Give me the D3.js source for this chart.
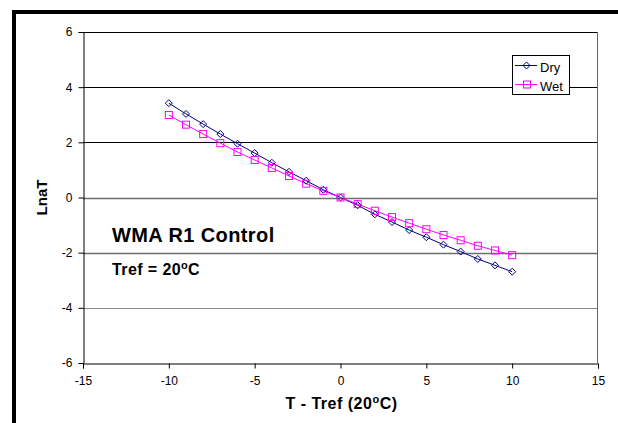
<!DOCTYPE html>
<html>
<head>
<meta charset="utf-8">
<script src="https://cdn.jsdelivr.net/npm/d3@7/dist/d3.min.js"></script>
<style>
  html, body { margin: 0; padding: 0; background: #fff; }
  svg { display: block; font-family: "Liberation Sans", Arial, sans-serif; }
</style>
</head>
<body>
<svg id="chart" width="618" height="423"></svg>
<script>
// Temperature offset from the reference temperature (°C)
const tOffsets = [-10, -9, -8, -7, -6, -5, -4, -3, -2, -1, 0, 1, 2, 3, 4, 5, 6, 7, 8, 9, 10];
// Ln(aT) shift factors, dry specimens
const dryValues = [3.42, 3.03, 2.66, 2.30, 1.95, 1.61, 1.26, 0.93, 0.61, 0.28, 0.00,
                   -0.28, -0.61, -0.89, -1.18, -1.44, -1.71, -1.96, -2.23, -2.46, -2.69];
// Ln(aT) shift factors, wet specimens
const wetValues = [2.99, 2.64, 2.30, 1.97, 1.65, 1.36, 1.07, 0.78, 0.50, 0.24, 0.00,
                   -0.24, -0.48, -0.71, -0.93, -1.15, -1.36, -1.55, -1.75, -1.92, -2.09];
const xTicks = [-15, -10, -5, 0, 5, 10, 15];
const yTicks = [-6, -4, -2, 0, 2, 4, 6];
const seriesNames = ["Dry", "Wet"];

const svg = d3.select("#chart");

// Frame edges on the top and left of the sheet
svg.append("rect").attr("x", 12).attr("y", 10).attr("width", 606).attr("height", 4).attr("fill", "#000");
svg.append("rect").attr("x", 12).attr("y", 10).attr("width", 4).attr("height", 413).attr("fill", "#000");

const plotLeft = 83, plotRight = 598, plotTop = 32, plotBottom = 363;
const x = d3.scaleLinear().domain([-15, 15]).range([plotLeft, plotRight]);
const y = d3.scaleLinear().domain([-6, 6]).range([plotBottom, plotTop]);

// Horizontal gridlines
svg.append("g").selectAll("line")
  .data(yTicks.filter(v => v > -6 && v < 6))
  .join("line")
  .attr("x1", plotLeft).attr("x2", plotRight)
  .attr("y1", d => Math.round(y(d)) + 0.5).attr("y2", d => Math.round(y(d)) + 0.5)
  .attr("stroke", d => d >= 2 ? "#000" : (d === -4 ? "#8a8a8a" : "#6e6e6e"))
  .attr("stroke-width", d => (d === 0 || d === -2) ? 1.6 : 1);

// Plot area outline (top and right)
svg.append("line").attr("x1", plotLeft).attr("x2", plotRight).attr("y1", plotTop + 0.5).attr("y2", plotTop + 0.5)
  .attr("stroke", "#000");
svg.append("line").attr("x1", plotRight - 0.5).attr("x2", plotRight - 0.5).attr("y1", plotTop).attr("y2", plotBottom)
  .attr("stroke", "#666");

// Axes (plain hyphen for negative numbers)
const fmt = d => String(d);
const xAxis = svg.append("g").attr("transform", `translate(0,${plotBottom + 0.5})`)
  .call(d3.axisBottom(x).tickValues(xTicks).tickSize(5).tickPadding(6).tickFormat(fmt));
const yAxis = svg.append("g").attr("transform", `translate(${plotLeft + 0.5},0)`)
  .call(d3.axisLeft(y).tickValues(yTicks).tickSize(5).tickPadding(6).tickFormat(fmt));
[xAxis, yAxis].forEach(a => {
  a.select(".domain").attr("stroke", "#000");
  a.selectAll(".tick line").attr("stroke", "#000");
  a.selectAll(".tick text").attr("font-size", 12).attr("fill", "#000")
    .attr("font-family", "'Liberation Sans', Arial, sans-serif");
});
xAxis.selectAll(".tick text").attr("dy", "0.85em");

// Axis titles
const xt = svg.append("text").attr("x", x(0) + 1).attr("y", 409).attr("text-anchor", "middle")
  .attr("font-size", 16).attr("font-weight", "bold").attr("letter-spacing", 0.5);
xt.append("tspan").text("T - Tref (20");
xt.append("tspan").attr("font-size", 11).attr("dy", -6).text("o");
xt.append("tspan").attr("dy", 6).text("C)");

svg.append("text").attr("transform", `translate(47,${y(0)}) rotate(-90)`)
  .attr("text-anchor", "middle").attr("font-size", 15).attr("font-weight", "bold").text("LnaT");

// Series lines and markers
const line = d3.line().x((d, i) => x(tOffsets[i])).y(d => y(d));
const dryColor = "#000080", wetColor = "#ff00ff";

svg.append("path").datum(dryValues).attr("d", line).attr("fill", "none").attr("stroke", dryColor).attr("stroke-width", 1);
svg.append("path").datum(wetValues).attr("d", line).attr("fill", "none").attr("stroke", wetColor).attr("stroke-width", 1);

const diamond = (cx, cy, r) => `M${cx},${cy - r}L${cx + r},${cy}L${cx},${cy + r}L${cx - r},${cy}Z`;
svg.append("g").selectAll("path").data(dryValues).join("path")
  .attr("d", (d, i) => diamond(x(tOffsets[i]), y(d), 3.5))
  .attr("fill", "none").attr("stroke", dryColor).attr("stroke-width", 1);
svg.append("g").selectAll("rect").data(wetValues).join("rect")
  .attr("x", (d, i) => x(tOffsets[i]) - 3.5).attr("y", d => y(d) - 3.5)
  .attr("width", 7).attr("height", 7)
  .attr("fill", "none").attr("stroke", wetColor).attr("stroke-width", 1);

// Annotations
svg.append("text").attr("x", 112).attr("y", 242).attr("font-size", 20).attr("font-weight", "bold")
  .attr("letter-spacing", 0.4).text("WMA R1 Control");
const tr = svg.append("text").attr("x", 112).attr("y", 275).attr("font-size", 16).attr("font-weight", "bold")
  .attr("letter-spacing", 0.4);
tr.append("tspan").text("Tref = 20");
tr.append("tspan").attr("font-size", 11).attr("dy", -6).text("o");
tr.append("tspan").attr("dy", 6).text("C");

// Legend
const lg = svg.append("g");
lg.append("rect").attr("x", 512.5).attr("y", 55.5).attr("width", 57).attr("height", 39)
  .attr("fill", "#fff").attr("stroke", "#000").attr("stroke-width", 1);
const legendRows = [
  { name: seriesNames[0], color: dryColor, cy: 65 },
  { name: seriesNames[1], color: wetColor, cy: 84 }
];
legendRows.forEach((r, i) => {
  lg.append("line").attr("x1", 515).attr("x2", 537).attr("y1", r.cy + 0.5).attr("y2", r.cy + 0.5)
    .attr("stroke", r.color);
  if (i === 0) {
    lg.append("path").attr("d", diamond(526.5, r.cy + 0.5, 3.5)).attr("fill", "none").attr("stroke", r.color);
  } else {
    lg.append("rect").attr("x", 523.5).attr("y", r.cy - 3).attr("width", 7).attr("height", 7)
      .attr("fill", "none").attr("stroke", r.color);
  }
  lg.append("text").attr("x", 540).attr("y", r.cy + 6.5).attr("font-size", 13).text(r.name);
});
</script>
</body>
</html>
